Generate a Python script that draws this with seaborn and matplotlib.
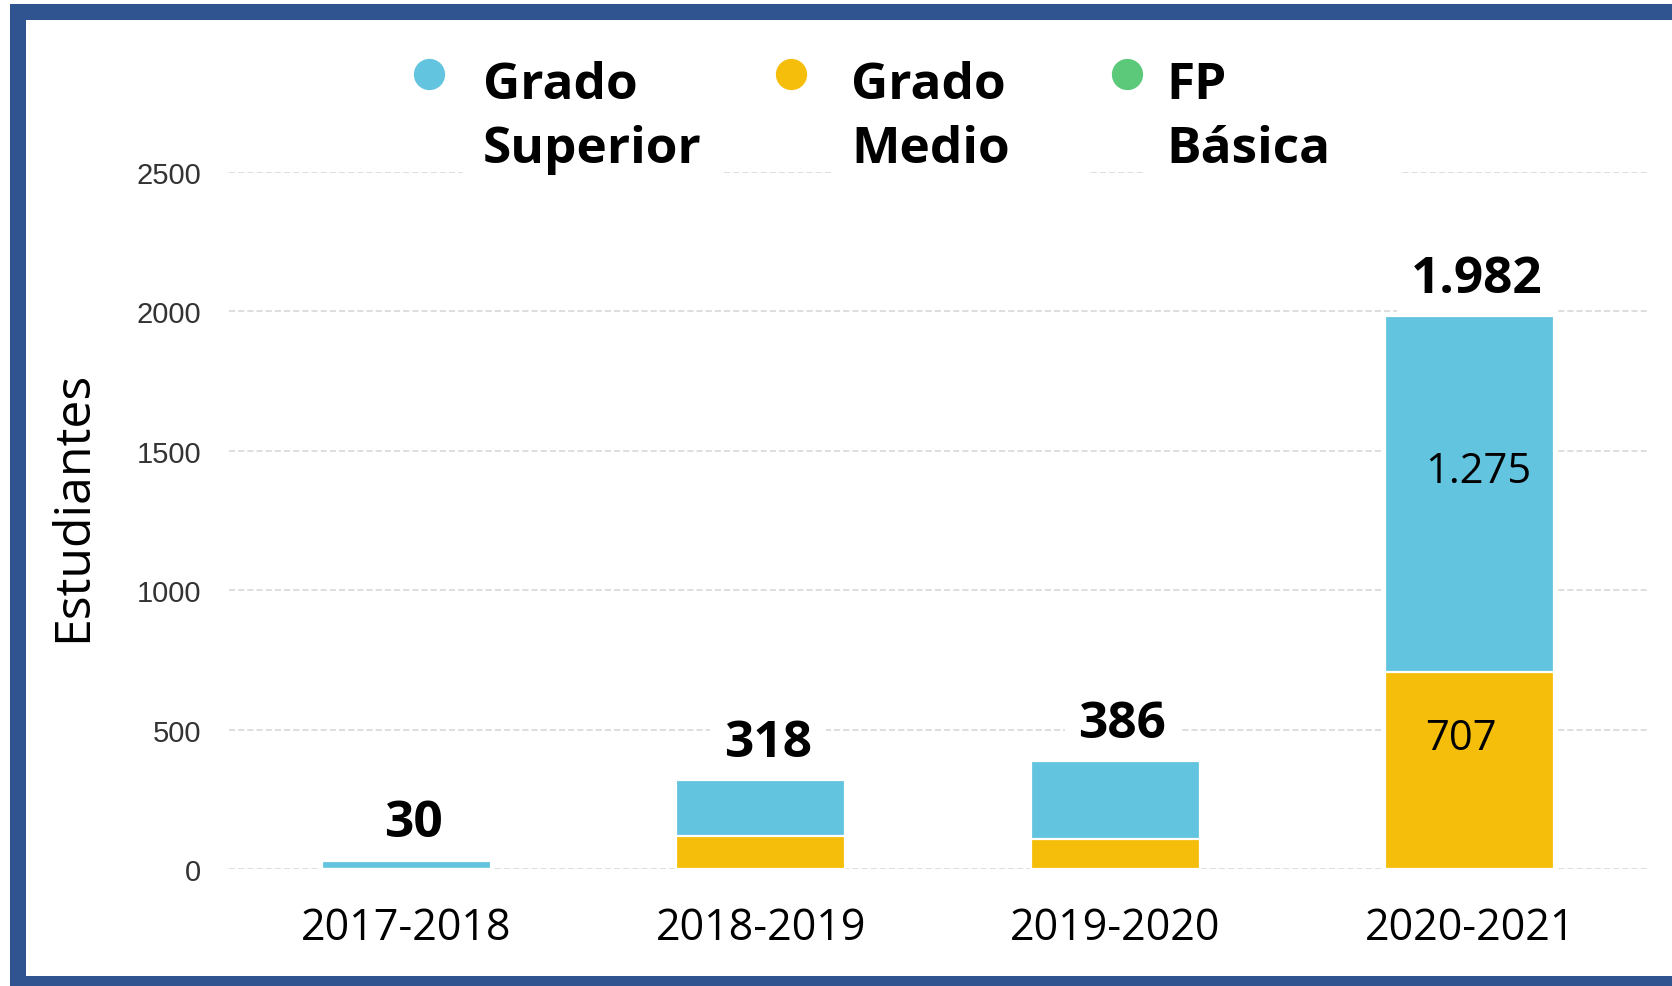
import matplotlib
matplotlib.use("Agg")
import matplotlib.pyplot as plt
import seaborn as sns
import pandas as pd
from matplotlib.patches import Rectangle
from matplotlib.lines import Line2D

# ---------------- data ----------------
years = ["2017-2018", "2018-2019", "2019-2020", "2020-2021"]
grado_superior = [30, 198, 279, 1275]
grado_medio = [0, 120, 107, 707]
fp_basica = [0, 0, 0, 0]
series_names = ["Grado\nSuperior", "Grado\nMedio", "FP\nBásica"]
y_ticks = [0, 500, 1000, 1500, 2000, 2500]
y_label = "Estudiantes"

C_GS = "#62C4DE"
C_GM = "#F5BE0A"
C_FP = "#5CC97A"
FRAME = "#2F5490"

sns.set_theme(style="white")
plt.rcParams['font.family'] = ['Open Sans', 'DejaVu Sans']

W, H = 1672, 987
fig = plt.figure(figsize=(W / 100, H / 100), dpi=100)
fig.patch.set_facecolor("white")
ax = fig.add_axes([229 / W, 1 - 870 / H, (1647 - 229) / W, (870 - 172.7) / H])
ax.set_facecolor("white")

df = pd.DataFrame({"year": years, "gs": grado_superior, "gm": grado_medio, "fp": fp_basica})
df["lvl_gm"] = df["gm"]
df["lvl_gs"] = df["gm"] + df["gs"]
df["lvl_fp"] = df["lvl_gs"] + df["fp"]
df["total"] = df["lvl_fp"]

for col, color in [("lvl_fp", C_FP), ("lvl_gs", C_GS), ("lvl_gm", C_GM)]:
    sns.barplot(data=df, x="year", y=col, color=color, width=0.476,
                edgecolor="white", linewidth=1.6, saturation=1,
                errorbar=None, ax=ax, zorder=2)

ax.set_xlim(-0.5, 3.5)
ax.set_ylim(0, 2500)
ax.set_yticks(y_ticks)
ax.set_axisbelow(True)
ax.yaxis.grid(True, color="#D5D5D5", linestyle=(0, (4, 2)), linewidth=1.1)
ax.xaxis.grid(False)
for s in ax.spines.values():
    s.set_visible(False)

ax.tick_params(axis="y", length=0, pad=20, labelsize=21, labelcolor="#333333")
ax.tick_params(axis="x", length=0, pad=26, labelsize=31, labelcolor="black")
for lab in ax.get_yticklabels():
    lab.set_fontfamily(["Liberation Sans", "DejaVu Sans"])
ax.set_xlabel("")
ax.set_ylabel(y_label, fontsize=36, color="black")
ax.yaxis.set_label_coords(-0.092, 0.522)


def fmt(v):
    return f"{int(v):,}".replace(",", ".")


# totals
for i, t in enumerate(df["total"]):
    ax.text(i + 0.02, t + 88, fmt(t), ha="center", va="baseline", fontsize=37,
            fontweight="bold", color="black", zorder=1,
            bbox=dict(facecolor="white", edgecolor="none", pad=10))

# inner labels on large segments
for i, (gm, gs) in enumerate(zip(grado_medio, grado_superior)):
    if gs > 500:
        ax.text(i + 0.025, gm + gs * 0.535, fmt(gs), ha="center", va="baseline",
                fontsize=30, color="black", zorder=4)
    if gm > 500:
        ax.text(i - 0.025, gm * 0.61, fmt(gm), ha="center", va="baseline",
                fontsize=30, color="black", zorder=4)

# legend (manual, to mimic layout)
leg_layout = [(429, 483, 463, 721), (791, 851, 832, 1088), (1127, 1166, 1146, 1402)]
for name, color, (mx, tx, r0, r1) in zip(series_names, [C_GS, C_GM, C_FP], leg_layout):
    fig.add_artist(Rectangle((r0 / W, 1 - 190 / H), (r1 - r0) / W, 150 / H,
                             transform=fig.transFigure, facecolor="white",
                             edgecolor="none", zorder=1))
    fig.add_artist(Line2D([mx / W], [1 - 75 / H], marker="o", markersize=21.5,
                          color=color, linestyle="none", transform=fig.transFigure,
                          zorder=3))
    for j, line in enumerate(name.split("\n")):
        fig.text(tx / W, 1 - (99 + 64 * j) / H, line, fontsize=37,
                 fontweight="bold", va="baseline", ha="left", color="black", zorder=3)

# frame
for (x0, y0, x1, y1) in [(10, 5, 26, 987), (10, 5, W, 21), (10, 977, W, 987)]:
    fig.add_artist(Rectangle((x0 / W, 1 - y1 / H), (x1 - x0) / W, (y1 - y0) / H,
                             transform=fig.transFigure, facecolor=FRAME,
                             edgecolor="none", zorder=10))

fig.savefig("out.png", dpi=100)
